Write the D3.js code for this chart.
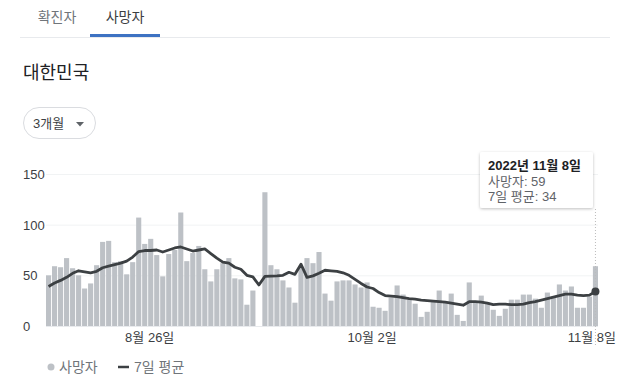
<!DOCTYPE html>
<html><head><meta charset="utf-8">
<script src="https://cdn.jsdelivr.net/npm/d3@7/dist/d3.min.js"></script>
<style>
html,body{margin:0;padding:0;background:#fff;}
svg{display:block;font-family:"Liberation Sans",Arial,"Noto Sans CJK KR",sans-serif;}
</style></head>
<body>
<svg id="c" width="617" height="391"></svg>
<script>
const dates = [
"2022-08-09","2022-08-10","2022-08-11","2022-08-12","2022-08-13","2022-08-14","2022-08-15","2022-08-16","2022-08-17","2022-08-18",
"2022-08-19","2022-08-20","2022-08-21","2022-08-22","2022-08-23","2022-08-24","2022-08-25","2022-08-26","2022-08-27","2022-08-28",
"2022-08-29","2022-08-30","2022-08-31","2022-09-01","2022-09-02","2022-09-03","2022-09-04","2022-09-05","2022-09-06","2022-09-07",
"2022-09-08","2022-09-09","2022-09-10","2022-09-11","2022-09-12","2022-09-13","2022-09-14","2022-09-15","2022-09-16","2022-09-17",
"2022-09-18","2022-09-19","2022-09-20","2022-09-21","2022-09-22","2022-09-23","2022-09-24","2022-09-25","2022-09-26","2022-09-27",
"2022-09-28","2022-09-29","2022-09-30","2022-10-01","2022-10-02","2022-10-03","2022-10-04","2022-10-05","2022-10-06","2022-10-07",
"2022-10-08","2022-10-09","2022-10-10","2022-10-11","2022-10-12","2022-10-13","2022-10-14","2022-10-15","2022-10-16","2022-10-17",
"2022-10-18","2022-10-19","2022-10-20","2022-10-21","2022-10-22","2022-10-23","2022-10-24","2022-10-25","2022-10-26","2022-10-27",
"2022-10-28","2022-10-29","2022-10-30","2022-10-31","2022-11-01","2022-11-02","2022-11-03","2022-11-04","2022-11-05","2022-11-06",
"2022-11-07","2022-11-08"];

const deaths = [
50,59,58,67,57,50,37,42,60,83,
84,63,64,51,63,107,81,86,70,49,
71,75,112,64,72,79,56,44,56,62,
67,47,46,21,35,null,132,60,56,45,
38,23,58,67,62,73,32,25,44,45,
45,41,38,43,19,18,15,28,40,31,
26,22,9,14,24,35,23,32,11,5,
43,23,30,23,16,10,17,26,26,31,
31,27,18,33,29,41,35,39,18,18,
29,59];

const avg7 = [
39,42.5,45,48,52,54.5,53.5,52.5,54,57.5,
59,60.5,62,64,68,73.5,74.5,74.5,75,73,
75,77,78,76,74,75,76,71.5,67,63,
62,58,56,50,48.5,40.5,49,49.3,49.5,50,
53,51,61,48,49.5,52,55,54.5,54,52.5,
50,46,42,38.5,37,33,30,29.5,29,28,
27,26.5,25.5,25,24.5,24,23.5,22.5,21.5,20.5,
24,24,23.5,22.5,21,21.5,21.5,21,21,21.5,
23,24,25.5,27,28.5,30,31.5,31.5,30.5,30,
30.5,34];

const yTicks = [0, 50, 100, 150];
const xTickDates = ["2022-08-26", "2022-10-02", "2022-11-08"];
const xTickLabels = ["8월 26일", "10월 2일", "11월 8일"];
const tabs = ["확진자", "사망자"];
const legendLabels = ["사망자", "7일 평균"];
const tooltipLines = ["2022년 11월 8일", "사망자: 59", "7일 평균: 34"];

const svg = d3.select("#c");
const x = d3.scaleBand().domain(dates).range([46, 598]).paddingInner(0.15).paddingOuter(0);
const y = d3.scaleLinear().domain([0, 150]).range([326, 174]);
const bw = x.bandwidth();
const cx = d => x(d) + bw / 2;

// header tabs
svg.append("text").attr("x", 57).attr("y", 22).attr("text-anchor", "middle")
  .attr("font-size", 14).attr("fill", "#70757a").text(tabs[0]);
svg.append("text").attr("x", 125).attr("y", 22).attr("text-anchor", "middle")
  .attr("font-size", 14).attr("fill", "#3c4043").text(tabs[1]);
svg.append("line").attr("x1", 20).attr("x2", 610).attr("y1", 37.5).attr("y2", 37.5)
  .attr("stroke", "#e8eaed");
svg.append("rect").attr("x", 90).attr("y", 34).attr("width", 70).attr("height", 3)
  .attr("fill", "#3d72c2");

// title
svg.append("text").attr("x", 23).attr("y", 79).attr("font-size", 18).attr("fill", "#202124").text("대한민국");

// button
svg.append("rect").attr("x", 23.5).attr("y", 107.5).attr("width", 72).attr("height", 31).attr("rx", 15.5)
  .attr("fill", "#fff").attr("stroke", "#dadce0");
svg.append("text").attr("x", 33).attr("y", 128).attr("font-size", 13).attr("fill", "#3c4043").text("3개월");
svg.append("path").attr("d", "M76,122 L84,122 L80,126.5 Z").attr("fill", "#5f6368");

// grid
const g = svg.append("g");
g.selectAll("line.grid").data(yTicks).join("line").attr("class", "grid")
  .attr("x1", 46).attr("x2", 598).attr("y1", d => y(d) + 0.5).attr("y2", d => y(d) + 0.5)
  .attr("stroke", d => d === 0 ? "#e8eaed" : "#f1f3f4");
g.selectAll("text.yl").data(yTicks).join("text").attr("class", "yl")
  .attr("x", 23).attr("y", d => y(d) + 5).attr("font-size", 13).attr("fill", "#3c4043").text(d => d);

// bars
g.selectAll("rect.bar").data(dates.map((d, i) => ({d, v: deaths[i]})).filter(o => o.v != null))
  .join("rect").attr("class", "bar")
  .attr("x", o => x(o.d)).attr("width", bw)
  .attr("y", o => y(o.v)).attr("height", o => y(0) - y(o.v))
  .attr("fill", "#bdc1c6");

// x labels (last one kept inside the frame)
g.selectAll("text.xl").data(xTickDates).join("text").attr("class", "xl")
  .attr("x", (d, i) => i === xTickDates.length - 1 ? 616 : cx(d) - 1)
  .attr("y", 342)
  .attr("text-anchor", (d, i) => i === xTickDates.length - 1 ? "end" : "middle")
  .attr("font-size", 13).attr("fill", "#3c4043").text((d, i) => xTickLabels[i]);

// dotted hover line
const last = dates[dates.length - 1];
g.append("line").attr("x1", cx(last)).attr("x2", cx(last)).attr("y1", 209).attr("y2", 345)
  .attr("stroke", "#bbb").attr("stroke-dasharray", "1,2");

// avg line
const line = d3.line().x((d, i) => cx(dates[i])).y(d => y(d));
g.append("path").datum(avg7).attr("d", line).attr("fill", "none")
  .attr("stroke", "#3c4043").attr("stroke-width", 2.8).attr("stroke-linejoin", "round");
g.append("circle").attr("cx", cx(last)).attr("cy", y(avg7[avg7.length - 1])).attr("r", 4)
  .attr("fill", "#3c4043");

// tooltip
const defs = svg.append("defs");
const f = defs.append("filter").attr("id", "sh").attr("x", "-20%").attr("y", "-20%").attr("width", "140%").attr("height", "150%");
f.append("feDropShadow").attr("dx", 0).attr("dy", 1).attr("stdDeviation", 1.5).attr("flood-color", "#000").attr("flood-opacity", 0.25);
svg.append("rect").attr("x", 480).attr("y", 152).attr("width", 113).attr("height", 56).attr("rx", 2)
  .attr("fill", "#fff").attr("filter", "url(#sh)");
svg.append("text").attr("x", 488).attr("y", 170).attr("font-size", 13).attr("font-weight", "bold")
  .attr("fill", "#202124").text(tooltipLines[0]);
svg.append("text").attr("x", 488).attr("y", 186).attr("font-size", 13).attr("fill", "#5f6368").text(tooltipLines[1]);
svg.append("text").attr("x", 488).attr("y", 201).attr("font-size", 13).attr("fill", "#5f6368").text(tooltipLines[2]);

// legend
svg.append("circle").attr("cx", 51).attr("cy", 367).attr("r", 3.5).attr("fill", "#bdc1c6");
svg.append("text").attr("x", 59).attr("y", 372).attr("font-size", 14).attr("fill", "#70757a").text(legendLabels[0]);
svg.append("line").attr("x1", 118).attr("x2", 129).attr("y1", 367).attr("y2", 367)
  .attr("stroke", "#3c4043").attr("stroke-width", 2.5);
svg.append("text").attr("x", 134).attr("y", 372).attr("font-size", 14).attr("fill", "#70757a").text(legendLabels[1]);
</script>
</body></html>
